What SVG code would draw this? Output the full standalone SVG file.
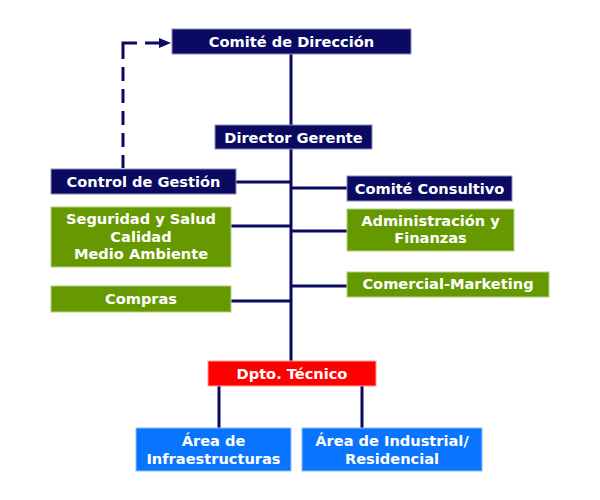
<svg xmlns="http://www.w3.org/2000/svg" width="600" height="500" viewBox="0 0 600 500">
<defs>
<style>
.t{font-family:"DejaVu Sans","Verdana",sans-serif;font-weight:bold;font-size:14.6px;fill:#ffffff;text-anchor:middle}
.navy{fill:#0a0a62;stroke:#8c8cb8;stroke-width:1}
.green{fill:#669900;stroke:#b5d080;stroke-width:1}
.red{fill:#ff0000;stroke:#ff9a9a;stroke-width:1}
.blue{fill:#0a74ff;stroke:#8fc0ff;stroke-width:1}
.ln{stroke:#0a0a62;stroke-width:3;fill:none}
.dash{stroke:#0a0a62;stroke-width:3;fill:none}
</style>
</defs>
<rect width="600" height="500" fill="#ffffff"/>
<g id="connectors">
<line class="ln" x1="291" y1="54" x2="291" y2="361"/>
<line class="ln" x1="236" y1="182" x2="291" y2="182"/>
<line class="ln" x1="291" y1="188" x2="347" y2="188"/>
<line class="ln" x1="231" y1="226" x2="291" y2="226"/>
<line class="ln" x1="291" y1="231" x2="347" y2="231"/>
<line class="ln" x1="291" y1="286" x2="347" y2="286"/>
<line class="ln" x1="231" y1="301" x2="291" y2="301"/>
<line class="ln" x1="219" y1="386" x2="219" y2="428"/>
<line class="ln" x1="362" y1="386" x2="362" y2="430"/>
<g id="dashed-link">
<path class="dash" d="M123,168 L123,155 M123,147 L123,133 M123,125 L123,111 M123,103 L123,89 M123,81 L123,67 M123,59 L123,43 L137,43 M145,43 L159,43"/>
<path d="M159,38 L171,43 L159,48 Z" fill="#0a0a62"/>
</g>
</g>
<g id="comite-direccion">
<rect class="navy" x="172" y="29" width="239" height="25"/>
<text class="t" x="291.5" y="47">Comité de Dirección</text>
</g>
<g id="director-gerente">
<rect class="navy" x="215" y="125" width="157" height="24"/>
<text class="t" x="293.5" y="142.5">Director Gerente</text>
</g>
<g id="control-gestion">
<rect class="navy" x="51" y="169" width="185" height="25"/>
<text class="t" x="143.5" y="187">Control de Gestión</text>
</g>
<g id="comite-consultivo">
<rect class="navy" x="347" y="176" width="165" height="25"/>
<text class="t" x="429.5" y="193.5">Comité Consultivo</text>
</g>
<g id="seguridad">
<rect class="green" x="51" y="207" width="180" height="60"/>
<text class="t" x="141" y="224">Seguridad y Salud</text>
<text class="t" x="141" y="241.5">Calidad</text>
<text class="t" x="141" y="259">Medio Ambiente</text>
</g>
<g id="administracion">
<rect class="green" x="347" y="209" width="167" height="42"/>
<text class="t" x="430.5" y="225.5">Administración y</text>
<text class="t" x="430.5" y="243">Finanzas</text>
</g>
<g id="comercial">
<rect class="green" x="347" y="272" width="202" height="25"/>
<text class="t" x="448" y="289">Comercial-Marketing</text>
</g>
<g id="compras">
<rect class="green" x="51" y="286" width="180" height="26"/>
<text class="t" x="141" y="304">Compras</text>
</g>
<g id="dpto-tecnico">
<rect class="red" x="208" y="361" width="168" height="25"/>
<text class="t" x="292" y="378.5">Dpto. Técnico</text>
</g>
<g id="area-infraestructuras">
<rect class="blue" x="136" y="428" width="155" height="43"/>
<text class="t" x="213.5" y="446">Área de</text>
<text class="t" x="213.5" y="463.5">Infraestructuras</text>
</g>
<g id="area-industrial">
<rect class="blue" x="302" y="428" width="180" height="43"/>
<text class="t" x="392" y="446">Área de Industrial/</text>
<text class="t" x="392" y="463.5">Residencial</text>
</g>
</svg>
